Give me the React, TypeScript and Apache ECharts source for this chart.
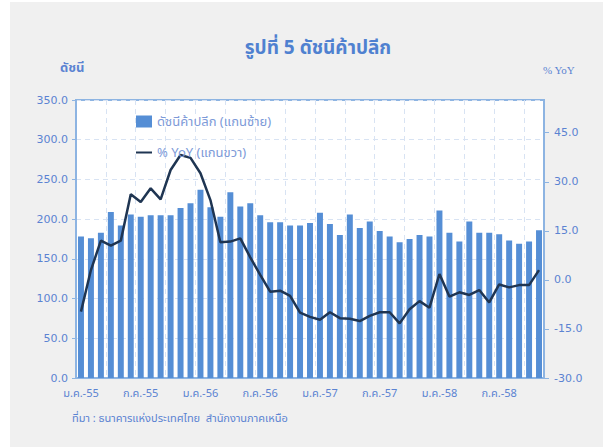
import React, { useEffect, useRef } from "react";
import * as echarts from "echarts";

const monthNames = ["ม.ค.", "ก.พ.", "มี.ค.", "เม.ย.", "พ.ค.", "มิ.ย.", "ก.ค.", "ส.ค.", "ก.ย.", "ต.ค.", "พ.ย.", "ธ.ค."];
const years = ["55", "56", "57", "58"];
const categories: string[] = [];
years.forEach((y) => monthNames.forEach((m) => categories.push(`${m}-${y}`)));
categories.length = 47; // ม.ค.-55 .. พ.ย.-58

const retailIndex = [
  178, 176, 183, 209, 192, 206, 203, 205, 205, 205, 214, 220,
  237, 215, 203, 234, 216, 220, 205, 196, 196, 192, 192, 195,
  208, 194, 180, 206, 189, 197, 185, 178, 171, 175, 180, 178,
  211, 183, 172, 197, 183, 183, 181, 173, 169, 172, 186,
];

const yoy = [
  -9.7, 3.0, 12.0, 10.5, 12.0, 26.2, 23.8, 28.0, 24.6, 33.6, 38.2, 37.3,
  32.6, 24.4, 11.5, 11.7, 12.7, 6.9, 1.5, -3.6, -3.3, -4.9, -10.0, -11.3,
  -12.2, -9.9, -11.7, -11.9, -12.6, -11.0, -9.9, -9.9, -13.3, -9.0, -6.5, -8.5,
  1.8, -5.1, -3.8, -4.6, -3.1, -6.9, -1.4, -2.3, -1.6, -1.6, 3.0,
];

const leftTicks = { min: 0, max: 350, interval: 50 };
const rightTicks = { min: -30, max: 55, interval: 15 };

const titleText = "รูปที่ 5 ดัชนีค้าปลีก";
const leftAxisName = "ดัชนี";
const rightAxisName = "% YoY";
const barName = "ดัชนีค้าปลีก (แกนซ้าย)";
const lineName = "% YoY (แกนขวา)";
const sourceText = "ที่มา : ธนาคารแห่งประเทศไทย  สำนักงานภาคเหนือ";

const blueText = "#5b83d2";
const axisBlue = "#8db4e2";
const gridColor = "#d8e3f3";
const thaiFont = "Tahoma, 'Noto Sans Thai', 'DejaVu Sans', 'Noto Sans', sans-serif";
const numFont = "'DejaVu Sans', 'Liberation Sans', sans-serif";

export default function App() {
  const ref = useRef<HTMLDivElement>(null);
  useEffect(() => {
    document.body.style.margin = "0";
    const chart = echarts.init(ref.current!, null, { renderer: "svg" });
    chart.setOption({
      animation: false,
      backgroundColor: "#ffffff",
      graphic: [
        { type: "rect", left: 10, top: 2, shape: { width: 593, height: 445 }, style: { fill: "#f0f0f0" }, z: -10, silent: true },
        {
          type: "text", left: 72, top: 413,
          style: { text: sourceText, fill: blueText, font: `11px ${thaiFont}` },
        },
        {
          type: "text", left: 60, top: 61,
          style: { text: leftAxisName, fill: blueText, font: `bold 13px ${thaiFont}` },
        },
        {
          type: "text", left: 543, top: 64,
          style: { text: rightAxisName, fill: blueText, font: `11px 'Liberation Serif', serif` },
        },
      ],
      title: {
        text: titleText,
        left: 313,
        textAlign: "center",
        top: 34,
        textStyle: { color: "#4f81d0", fontSize: 19, fontWeight: "bold", fontFamily: thaiFont },
      },
      legend: {
        left: 131,
        top: 110,
        orient: "vertical",
        itemWidth: 16,
        itemHeight: 12,
        itemGap: 18,
        textStyle: { color: "#7d9ad8", fontSize: 13, fontFamily: thaiFont },
        data: [
          { name: barName, icon: "rect" },
          { name: lineName, icon: "path://M0,5 L16,5 L16,7 L0,7 Z" },
        ],
      },
      grid: {
        left: 76,
        right: 59,
        top: 100,
        bottom: 69,
        show: true,
        backgroundColor: "#ffffff",
        borderColor: axisBlue,
        borderWidth: 2,
      },
      xAxis: {
        type: "category",
        data: categories,
        boundaryGap: true,
        axisLine: { lineStyle: { color: axisBlue, width: 2 } },
        axisTick: { interval: 2, length: 5, lineStyle: { color: axisBlue } },
        axisLabel: {
          interval: 5,
          color: blueText,
          fontSize: 11,
          fontFamily: thaiFont,
          margin: 10,
        },
        splitLine: { show: true, interval: 2, lineStyle: { color: gridColor, type: [5, 4] } },
      },
      yAxis: [
        {
          type: "value",
          min: leftTicks.min,
          max: leftTicks.max,
          interval: leftTicks.interval,
          axisLine: { show: true, lineStyle: { color: axisBlue, width: 2 } },
          axisTick: { show: true, length: 4, lineStyle: { color: axisBlue } },
          axisLabel: { color: blueText, fontSize: 11, fontFamily: numFont, margin: 8, formatter: (v: number) => v.toFixed(1) },
          splitLine: { show: true, lineStyle: { color: gridColor, type: [5, 4] } },
        },
        {
          type: "value",
          min: rightTicks.min,
          max: rightTicks.max,
          interval: rightTicks.interval,
          position: "right",
          axisLine: { show: true, lineStyle: { color: axisBlue, width: 2 } },
          axisTick: { show: true, length: 5, lineStyle: { color: axisBlue } },
          axisLabel: {
            color: blueText, fontSize: 11, fontFamily: numFont, margin: 10, showMaxLabel: false,
            formatter: (v: number) => (v > 45 ? "" : v.toFixed(1)),
          },
          splitLine: { show: false },
        },
      ],
      series: [
        {
          name: barName,
          type: "bar",
          data: retailIndex,
          yAxisIndex: 0,
          barCategoryGap: "40%",
          itemStyle: { color: "#558ed5" },
        },
        {
          name: lineName,
          type: "line",
          data: yoy,
          yAxisIndex: 1,
          symbol: "none",
          lineStyle: { color: "#1f3552", width: 2.5 },
          itemStyle: { color: "#1f3552" },
        },
      ],
    });
    return () => chart.dispose();
  }, []);
  return <div ref={ref} style={{ width: 603, height: 447 }} />;
}
